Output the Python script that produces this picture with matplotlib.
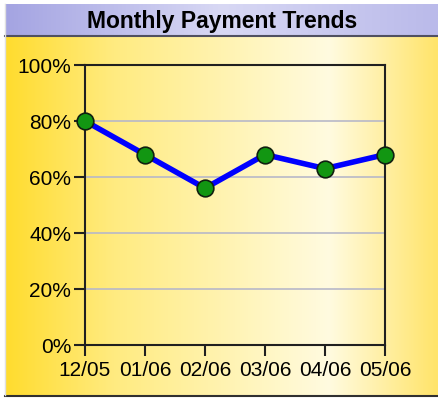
import numpy as np
import matplotlib
matplotlib.use('Agg')
import matplotlib.pyplot as plt
from matplotlib.colors import LinearSegmentedColormap

months = ["12/05", "01/06", "02/06", "03/06", "04/06", "05/06"]
payment_pct = [80, 68, 56, 68, 63, 68]
yticks = [0, 20, 40, 60, 80, 100]
ytick_labels = ["0%", "20%", "40%", "60%", "80%", "100%"]
title = "Monthly Payment Trends"

W, H = 438, 402
fig = plt.figure(figsize=(W / 100, H / 100), dpi=100)

# background layer in pixel coords
bg = fig.add_axes([0, 0, 1, 1])
bg.set_xlim(0, W)
bg.set_ylim(H, 0)
bg.axis('off')

yellow = LinearSegmentedColormap.from_list(
    'y', [(0, '#ffdc2e'), (0.25, '#ffeb80'), (0.75, '#fffbe0'), (1.0, '#ffe46a')])
grad = np.linspace(0, 1, 256).reshape(1, -1)
bg.imshow(grad, cmap=yellow, extent=[5, W, 396, 37], aspect='auto', zorder=0)

purple = LinearSegmentedColormap.from_list(
    'p', [(0, '#a4a4e2'), (0.5, '#d8d8f4'), (1.0, '#babaea')])
bg.imshow(grad, cmap=purple, extent=[5, W, 37, 5], aspect='auto', zorder=0)
bg.plot([5, W], [37, 37], color='#505060', lw=1.5, zorder=2)
bg.plot([5, W], [396.5, 396.5], color='#303030', lw=1.5, zorder=2)
bg.plot([5, 5], [5, 396], color='#e0e0e0', lw=1, zorder=2)
bg.text(W / 2 + 3, 21.5, title, ha='center', va='center', fontsize=16.5,
        fontweight='bold', family='Liberation Sans', color='black')

# plot area
ax = fig.add_axes([85 / W, 1 - 346 / H, 300 / W, 280 / H])
ax.patch.set_alpha(0)
ax.plot(range(len(months)), payment_pct, color='#0000ff', lw=4,
        marker='o', markersize=12, markerfacecolor='#129612',
        markeredgecolor='#102010', markeredgewidth=1.2, clip_on=False, zorder=3)
ax.set_xlim(0, len(months) - 1)
ax.set_ylim(0, 100)
ax.set_yticks(yticks)
ax.set_yticklabels(ytick_labels)
ax.set_xticks(range(len(months)))
ax.set_xticklabels(months)
for y in yticks[1:-1]:
    ax.axhline(y, color='#b8b8c8', lw=1.2, zorder=1)
for s in ax.spines.values():
    s.set_color('#202020')
    s.set_linewidth(1.5)
ax.tick_params(direction='out', length=8, width=1.5, color='#202020',
               labelsize=15, pad=2)
ax.tick_params(axis='x', pad=3)
for lab in ax.get_xticklabels() + ax.get_yticklabels():
    lab.set_family('Liberation Sans')

fig.savefig('out.png', dpi=100)
